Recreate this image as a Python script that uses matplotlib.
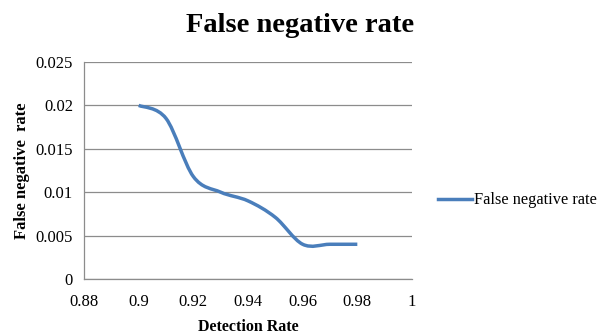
import matplotlib
matplotlib.use("Agg")
import matplotlib.pyplot as plt
from matplotlib.path import Path
from matplotlib.patches import PathPatch
from matplotlib.lines import Line2D
import numpy as np

# detection rate vs. false negative rate
detection_rate = [0.90, 0.91, 0.92, 0.93, 0.94, 0.95, 0.96, 0.97, 0.98]
false_negative = [0.020, 0.0185, 0.0118, 0.0100, 0.0090, 0.0071, 0.0040, 0.0040, 0.0040]
x_ticks = [0.88, 0.9, 0.92, 0.94, 0.96, 0.98, 1]
x_tick_labels = ["0.88", "0.9", "0.92", "0.94", "0.96", "0.98", "1"]
y_ticks = [0, 0.005, 0.01, 0.015, 0.02, 0.025]
y_tick_labels = ["0", "0.005", "0.01", "0.015", "0.02", "0.025"]

plt.rcParams['font.family'] = ['Liberation Serif', 'DejaVu Serif']
line_color = "#4A7EBB"


def smoothPath(xs, ys):
    # cubic bezier through every point, like a spreadsheet "smoothed line"
    pts = np.column_stack([xs, ys])
    n = len(pts)
    verts = [pts[0]]
    codes = [Path.MOVETO]
    for i in range(n - 1):
        p0 = pts[max(i - 1, 0)]
        p1 = pts[i]
        p2 = pts[i + 1]
        p3 = pts[min(i + 2, n - 1)]
        c1 = p1 + (p2 - p0) / 6.0
        c2 = p2 - (p3 - p1) / 6.0
        verts += [c1, c2, p2]
        codes += [Path.CURVE4] * 3
    return Path(verts, codes)


fig = plt.figure(figsize=(6.01, 3.34), dpi=100)
ax = fig.add_axes([0.1398, 0.1647, 0.5457, 0.6497])

patch = PathPatch(smoothPath(detection_rate, false_negative), facecolor="none",
                  edgecolor=line_color, linewidth=2.5, capstyle="butt", zorder=3)
ax.add_patch(patch)

ax.set_xlim(0.88, 1.0)
ax.set_ylim(0, 0.025)
ax.set_xticks(x_ticks)
ax.set_xticklabels(x_tick_labels, fontsize=12)
ax.set_yticks(y_ticks)
ax.set_yticklabels(y_tick_labels, fontsize=12)
ax.tick_params(axis="y", length=0, pad=8)
ax.tick_params(axis="x", length=0, pad=11)

ax.grid(True, axis="y", color="#8c8c8c", linewidth=0.9)
ax.set_axisbelow(True)
for side in ["top", "right"]:
    ax.spines[side].set_visible(False)
for side in ["left", "bottom"]:
    ax.spines[side].set_color("#8c8c8c")
    ax.spines[side].set_linewidth(0.9)

ax.set_xlabel("Detection Rate", fontsize=11.5, fontweight="bold", labelpad=6)
ax.set_ylabel("False negative  rate", fontsize=12, fontweight="bold", labelpad=4)

fig.text(0.5, 0.925, "False negative rate", fontsize=20.5, fontweight="bold",
         ha="center", va="center")

handle = Line2D([], [], color=line_color, linewidth=2.5)
fig.legend([handle], ["False negative rate"], loc="center left",
           bbox_to_anchor=(0.728, 0.40), frameon=False, fontsize=11.8,
           handlelength=2.1, handletextpad=0.1, borderaxespad=0, borderpad=0)

fig.savefig("out.png", dpi=100)
